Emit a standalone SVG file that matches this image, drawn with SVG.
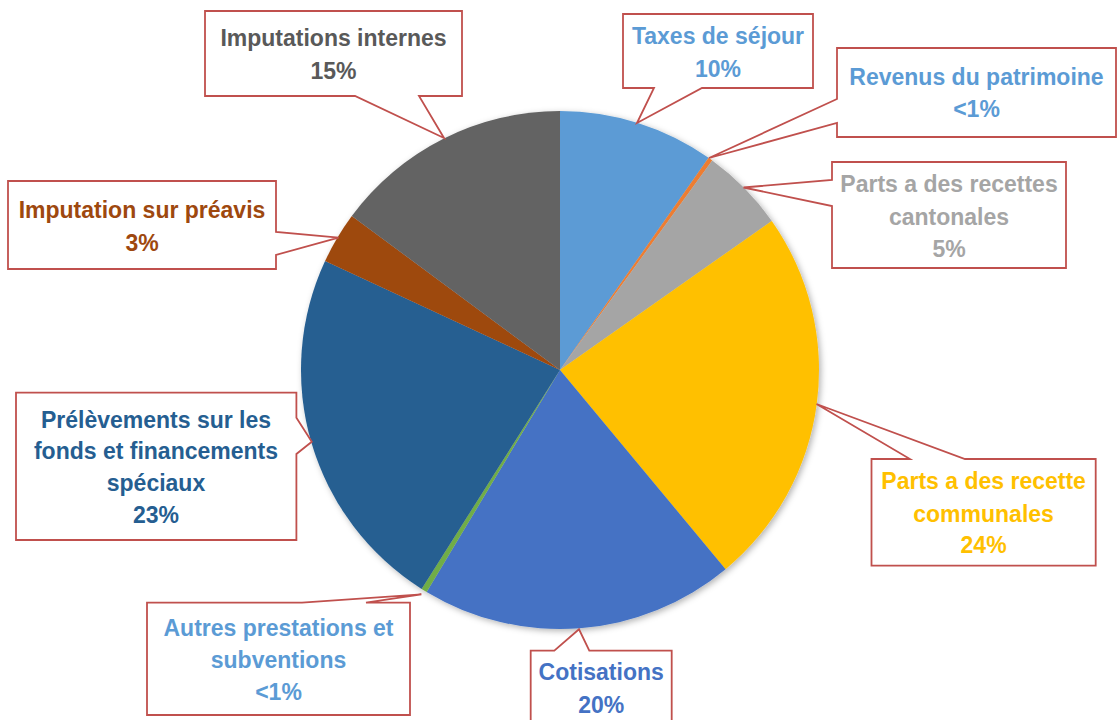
<svg xmlns="http://www.w3.org/2000/svg" width="1117" height="720" viewBox="0 0 1117 720">
<defs>
<filter id="shadow" x="-10%" y="-10%" width="120%" height="120%">
<feDropShadow dx="2" dy="2" stdDeviation="3" flood-color="#000" flood-opacity="0.3"/>
</filter>
<style>
.call{fill:#fff;stroke:#C0504D;stroke-width:1.8;stroke-linejoin:miter}
.lbl{font-family:"Liberation Sans",Arial,sans-serif;font-weight:bold;font-size:23px;text-anchor:middle}
.sl{stroke:none}
</style>
</defs>
<rect width="1117" height="720" fill="#fff"/>
<g id="pie" filter="url(#shadow)">
<path class="sl" fill="#5B9BD5" d="M560,370 L560,111 A259,259 0 0,1 708.56,157.83 Z"/>
<path class="sl" fill="#ED7D31" d="M560,370 L708.56,157.83 A259,259 0 0,1 712.24,160.46 Z"/>
<path class="sl" fill="#A5A5A5" d="M560,370 L712.24,160.46 A259,259 0 0,1 771.77,220.89 Z"/>
<path class="sl" fill="#FFC000" d="M560,370 L771.77,220.89 A259,259 0 0,1 725.58,569.16 Z"/>
<path class="sl" fill="#4472C4" d="M560,370 L725.58,569.16 A259,259 0 0,1 426.61,592.01 Z"/>
<path class="sl" fill="#70AD47" d="M560,370 L426.61,592.01 A259,259 0 0,1 421.60,588.92 Z"/>
<path class="sl" fill="#255E91" d="M560,370 L421.60,588.92 A259,259 0 0,1 325.07,260.95 Z"/>
<path class="sl" fill="#9E480E" d="M560,370 L325.07,260.95 A259,259 0 0,1 351.80,215.94 Z"/>
<path class="sl" fill="#636363" d="M560,370 L351.80,215.94 A259,259 0 0,1 560,111 Z"/>
</g>
<g id="connectors"></g>
<g id="label-imputations-internes">
<path class="call" d="M205,11 H462 V96 H419 L444,138 L355,96 H205 Z"/>
<text class="lbl" fill="#595959" x="333.5" y="46">Imputations internes</text>
<text class="lbl" fill="#595959" x="333.5" y="79">15%</text>
</g>
<g id="label-taxes-sejour">
<path class="call" d="M623,14 H813 V88 H702 L637,123 L654,88 H623 Z"/>
<text class="lbl" fill="#5B9BD5" x="718" y="44">Taxes de séjour</text>
<text class="lbl" fill="#5B9BD5" x="718" y="76.5">10%</text>
</g>
<g id="label-revenus-patrimoine">
<path class="call" d="M837,48 H1116 V137 H837 V123 L709,158 L837,99 Z"/>
<text class="lbl" fill="#5B9BD5" x="976.5" y="85">Revenus du patrimoine</text>
<text class="lbl" fill="#5B9BD5" x="976.5" y="117">&lt;1%</text>
</g>
<g id="label-parts-cantonales">
<path class="call" d="M832,162 H1066 V268 H832 V206 L743.5,187.5 L832,180 Z"/>
<text class="lbl" fill="#A5A5A5" x="949" y="191.5">Parts a des recettes</text>
<text class="lbl" fill="#A5A5A5" x="949" y="224.5">cantonales</text>
<text class="lbl" fill="#A5A5A5" x="949" y="256.5">5%</text>
</g>
<g id="label-parts-communales">
<path class="call" d="M871.5,459 H910 L816.5,404 L965,459 H1095.7 V565.7 H871.5 Z"/>
<text class="lbl" fill="#FFC000" x="983.6" y="489">Parts a des recette</text>
<text class="lbl" fill="#FFC000" x="983.6" y="521.5">communales</text>
<text class="lbl" fill="#FFC000" x="983.6" y="553">24%</text>
</g>
<g id="label-cotisations">
<path class="call" d="M530.7,650.7 H554.3 L579,629.3 L589.3,650.7 H671.7 V730 H530.7 Z"/>
<text class="lbl" fill="#4472C4" x="601.2" y="680">Cotisations</text>
<text class="lbl" fill="#4472C4" x="601.2" y="712.5">20%</text>
</g>
<g id="label-autres-prestations">
<path class="call" d="M147,602.7 H302 L421.4,594.3 L366,602.7 H410 V715 H147 Z"/>
<text class="lbl" fill="#5B9BD5" x="278.5" y="636">Autres prestations et</text>
<text class="lbl" fill="#5B9BD5" x="278.5" y="668">subventions</text>
<text class="lbl" fill="#5B9BD5" x="278.5" y="700">&lt;1%</text>
</g>
<g id="label-prelevements">
<path class="call" d="M16,392.7 H296.4 V417.7 L311.8,441.7 L296.4,454 V540 H16 Z"/>
<text class="lbl" fill="#255E91" x="156" y="427.5">Prélèvements sur les</text>
<text class="lbl" fill="#255E91" x="156" y="459">fonds et financements</text>
<text class="lbl" fill="#255E91" x="156" y="491">spéciaux</text>
<text class="lbl" fill="#255E91" x="156" y="523">23%</text>
</g>
<g id="label-imputation-preavis">
<path class="call" d="M8,181 H276 V232 L338.6,237.7 L276,255 V269 H8 Z"/>
<text class="lbl" fill="#9E480E" x="142" y="218">Imputation sur préavis</text>
<text class="lbl" fill="#9E480E" x="142" y="250.5">3%</text>
</g>
</svg>
